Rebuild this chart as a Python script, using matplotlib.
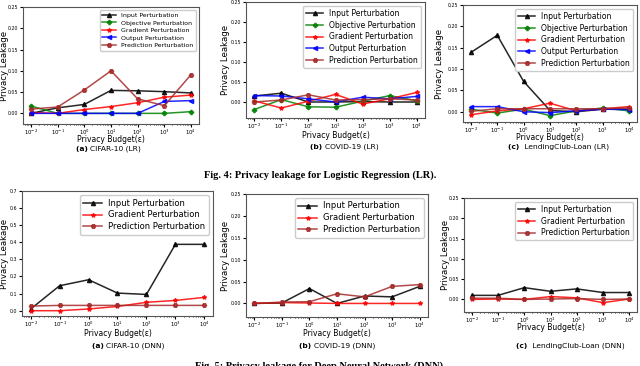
import matplotlib
matplotlib.use("Agg")
import matplotlib.pyplot as plt

# privacy budgets (epsilon)
eps = [1e-2, 1e-1, 1e0, 1e1, 1e2, 1e3, 1e4]

series_names = ["Input Perturbation", "Objective Perturbation", "Gradient Perturbation",
                "Output Perturbation", "Prediction Perturbation"]
dnn_names = ["Input Perturbation", "Gradient Perturbation", "Prediction Perturbation"]

# ---- Fig. 4: Logistic Regression ----
cifar_lr_input = [0.0, 0.013, 0.021, 0.054, 0.053, 0.051, 0.048]
cifar_lr_objective = [0.017, 0.0, 0.0, 0.0, 0.0, 0.0, 0.004]
cifar_lr_gradient = [0.002, 0.0, 0.009, 0.016, 0.025, 0.038, 0.043]
cifar_lr_output = [0.0, 0.0, 0.0, 0.0, 0.0, 0.028, 0.030]
cifar_lr_prediction = [0.010, 0.015, 0.055, 0.100, 0.034, 0.018, 0.091]

covid_lr_input = [0.015, 0.022, 0.0, 0.0, 0.001, 0.0, 0.0]
covid_lr_objective = [-0.019, 0.006, -0.012, -0.013, 0.002, 0.016, 0.003]
covid_lr_gradient = [0.003, -0.015, 0.002, 0.019, -0.005, 0.008, 0.024]
covid_lr_output = [0.016, 0.015, 0.008, 0.0, 0.012, 0.008, 0.014]
covid_lr_prediction = [0.0, 0.005, 0.018, 0.005, 0.006, 0.008, 0.005]

loan_lr_input = [0.139, 0.179, 0.071, 0.003, 0.0, 0.006, 0.006]
loan_lr_objective = [0.006, -0.003, 0.006, -0.009, 0.002, 0.009, 0.002]
loan_lr_gradient = [-0.007, 0.002, 0.007, 0.020, 0.002, 0.007, 0.012]
loan_lr_output = [0.012, 0.012, 0.0, -0.002, 0.002, 0.006, 0.005]
loan_lr_prediction = [0.001, 0.007, 0.007, 0.007, 0.007, 0.007, 0.009]

# ---- Fig. 5: Deep Neural Network ----
cifar_dnn_input = [0.010, 0.146, 0.181, 0.103, 0.095, 0.388, 0.388]
cifar_dnn_gradient = [0.0, 0.0, 0.010, 0.025, 0.049, 0.060, 0.078]
cifar_dnn_prediction = [0.027, 0.031, 0.031, 0.031, 0.031, 0.031, 0.031]

covid_dnn_input = [0.0, 0.001, 0.034, 0.0, 0.017, 0.015, 0.039]
covid_dnn_gradient = [0.0, 0.002, 0.001, 0.0, 0.0, 0.0, 0.0]
covid_dnn_prediction = [0.0, 0.003, 0.004, 0.022, 0.015, 0.039, 0.043]

loan_dnn_input = [0.010, 0.010, 0.029, 0.020, 0.026, 0.017, 0.017]
loan_dnn_gradient = [0.0, 0.001, 0.0, 0.007, 0.004, -0.008, 0.001]
loan_dnn_prediction = [0.003, 0.003, 0.0, 0.001, 0.002, 0.0, 0.001]

STYLE = {
    "Input Perturbation": dict(color="black", marker="^"),
    "Objective Perturbation": dict(color="green", marker="P"),
    "Gradient Perturbation": dict(color="red", marker="*"),
    "Output Perturbation": dict(color="blue", marker="<"),
    "Prediction Perturbation": dict(color="brown", marker="H"),
}

W, H = 640, 366


def fx(px):
    return px / W


def fy(py):
    return 1 - py / H


def panel(fig, box, data, ylim, yticks, yfmt, legend_fs, ylab_x, xlab_y,
          tag, caption, cap_xy):
    x0, y0, x1, y1 = box
    ax = fig.add_axes([fx(x0), fy(y1), (x1 - x0) / W, (y1 - y0) / H])
    for name, vals in data:
        ax.plot(eps, vals, label=name, lw=1.1, ms=3, alpha=0.85, **STYLE[name])
    ax.set_xscale("log")
    ax.set_xticks(eps)
    ax.set_ylim(*ylim)
    ax.set_yticks(yticks)
    ax.set_yticklabels([yfmt.format(t) for t in yticks])
    ax.tick_params(axis="y", labelsize=3.4, length=2, pad=1.5)
    ax.tick_params(axis="x", labelsize=3.9, length=2, pad=0.5)
    ax.tick_params(axis="x", which="minor", length=1)

    ax.set_xlabel("Privacy Budget(ε)", fontsize=5.5)
    ax.xaxis.label.set_va("center")
    ax.xaxis.set_label_coords(fx((x0 + x1) / 2), fy(xlab_y + 2.5), transform=fig.transFigure)
    ax.set_ylabel("Privacy Leakage", fontsize=6.2)
    ax.yaxis.label.set_va("center")
    ax.yaxis.set_label_coords(fx(ylab_x), fy((y0 + y1) / 2), transform=fig.transFigure)

    for s in ax.spines.values():
        s.set_color("#555555")
        s.set_linewidth(0.8)
    ax.legend(loc="upper right", fontsize=legend_fs, handlelength=2.2,
              borderpad=0.4, labelspacing=0.35, framealpha=1, edgecolor="#cccccc")

    # caption: bold tag followed by the dataset name
    cx, cy = cap_xy
    fig.text(fx(cx), fy(cy), tag + " ", fontsize=5.4, fontweight="bold",
             ha="right", va="center")
    fig.text(fx(cx), fy(cy), caption, fontsize=5.4, ha="left", va="center")
    return ax


fig = plt.figure(figsize=(6.4, 3.66), dpi=100)

lr_ticks = [0.0, 0.05, 0.10, 0.15, 0.20, 0.25]

panel(fig, (23, 7, 199, 124),
      list(zip(series_names, [cifar_lr_input, cifar_lr_objective, cifar_lr_gradient,
                              cifar_lr_output, cifar_lr_prediction])),
      (-0.025, 0.25), lr_ticks, "{:.2f}", 4.5, 5, 137,
      "(a)", "CIFAR-10 (LR)", (90, 149))
panel(fig, (246, 2, 425, 118),
      list(zip(series_names, [covid_lr_input, covid_lr_objective, covid_lr_gradient,
                              covid_lr_output, covid_lr_prediction])),
      (-0.04, 0.25), lr_ticks, "{:.2f}", 5.5, 225, 133,
      "(b)", "COVID-19 (LR)", (325, 147))
panel(fig, (463, 5, 637, 122),
      list(zip(series_names, [loan_lr_input, loan_lr_objective, loan_lr_gradient,
                              loan_lr_output, loan_lr_prediction])),
      (-0.024, 0.25), lr_ticks, "{:.2f}", 5.5, 440, 135,
      "(c)", " LendingClub-Loan (LR)", (522, 147))

panel(fig, (22, 191, 213, 316),
      list(zip(dnn_names, [cifar_dnn_input, cifar_dnn_gradient, cifar_dnn_prediction])),
      (-0.031, 0.7), [0.0, 0.1, 0.2, 0.3, 0.4, 0.5, 0.6, 0.7], "{:.1f}", 6.0, 5, 331,
      "(a)", "CIFAR-10 (DNN)", (106, 346))
panel(fig, (246, 194, 428, 317),
      list(zip(dnn_names, [covid_dnn_input, covid_dnn_gradient, covid_dnn_prediction])),
      (-0.031, 0.25), lr_ticks, "{:.2f}", 6.0, 225, 331,
      "(b)", "COVID-19 (DNN)", (314, 346))
panel(fig, (464, 198, 637, 312),
      list(zip(dnn_names, [loan_dnn_input, loan_dnn_gradient, loan_dnn_prediction])),
      (-0.031, 0.25), lr_ticks, "{:.2f}", 5.5, 446, 325,
      "(c)", " LendingClub-Loan (DNN)", (530, 346))

fig.text(fx(320), fy(175), "Fig. 4: Privacy leakage for Logistic Regression (LR).",
         fontsize=7.5, fontweight="bold", family="Liberation Serif", ha="center", va="center")
fig.text(fx(320), fy(361), "Fig. 5: Privacy leakage for Deep Neural Network (DNN).",
         fontsize=7.5, fontweight="bold", family="Liberation Serif", ha="center", va="top")

fig.savefig("out.png", dpi=100)
